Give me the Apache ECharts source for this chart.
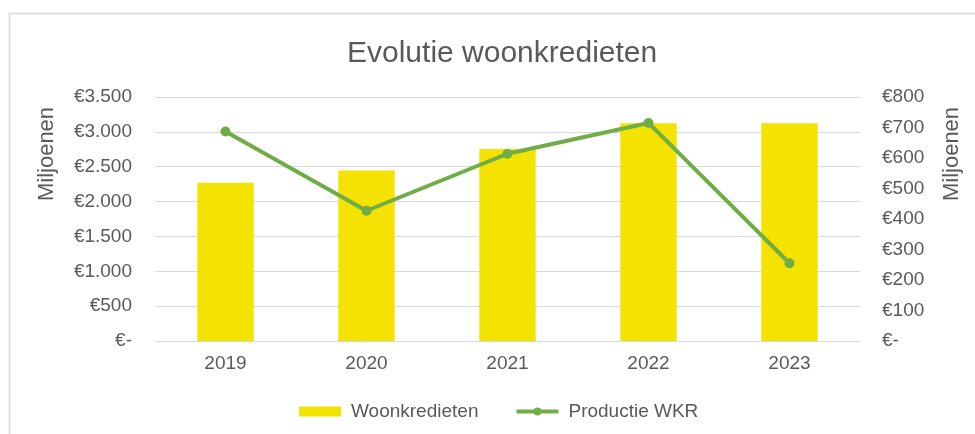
<!DOCTYPE html>
<html>
<head>
<meta charset="utf-8">
<script src="https://cdn.jsdelivr.net/npm/echarts@6.0.0/dist/echarts.min.js"></script>
<style>
  html, body { margin: 0; padding: 0; background: #fff; }
  #woonchart { width: 975px; height: 434px; }
</style>
</head>
<body>
<div id="woonchart"></div>
<script>
// data
const years = ['2019', '2020', '2021', '2022', '2023'];
const woonkredieten = [2270, 2445, 2755, 3125, 3125]; // miljoenen, linker as
const productieWKR = [687, 427, 614, 715, 255]; // miljoenen, rechter as
const leftTicks = [0, 500, 1000, 1500, 2000, 2500, 3000, 3500];
const rightTicks = [0, 100, 200, 300, 400, 500, 600, 700, 800];

const textColor = '#595959';
const fontFamily = "'Liberation Sans', Arial, sans-serif";

// €-notatie zoals in Excel: 0 -> "€-", duizendtallen met punt
const euro = (v) => {
  if (v === 0) return '€-';
  return '€' + String(v).replace(/\B(?=(\d{3})+(?!\d))/g, '.');
};

const chart = echarts.init(document.getElementById('woonchart'));

const option = {
  backgroundColor: '#fff',
  textStyle: { fontFamily: fontFamily },
  title: {
    text: 'Evolutie woonkredieten',
    left: 342,
    top: 34,
    textStyle: {
      color: textColor,
      fontSize: 30,
      fontWeight: 'normal',
      fontFamily: fontFamily
    }
  },
  // kader rond de grafiek
  graphic: [{
    type: 'rect',
    silent: true,
    shape: { x: 9.5, y: 13.5, width: 1000, height: 500 },
    style: { fill: 'none', stroke: '#d9d9d9', lineWidth: 1.5 }
  }],
  grid: {
    left: 155,
    right: 115,
    top: 97,
    bottom: 93
  },
  legend: {
    top: 397,
    left: 294,
    itemWidth: 42,
    itemHeight: 10,
    itemGap: 36,
    lineStyle: { width: 4 },
    textStyle: {
      color: textColor,
      fontSize: 19,
      padding: [0, 0, 0, 5]
    },
    data: [
      { name: 'Woonkredieten', icon: 'rect' },
      { name: 'Productie WKR' }
    ]
  },
  xAxis: {
    type: 'category',
    data: years,
    axisTick: { show: false },
    axisLine: { lineStyle: { color: '#d9d9d9', width: 1 } },
    axisLabel: {
      color: textColor,
      fontSize: 19,
      margin: 13
    }
  },
  yAxis: [{
      type: 'value',
      min: leftTicks[0],
      max: leftTicks[leftTicks.length - 1],
      interval: leftTicks[1] - leftTicks[0],
      name: 'Miljoenen',
      nameLocation: 'middle',
      nameRotate: 90,
      nameGap: 97,
      nameTextStyle: {
        color: textColor,
        fontSize: 22,
        padding: [0, 0, 0, 130]
      },
      axisLine: { show: false },
      axisTick: { show: false },
      splitLine: { lineStyle: { color: '#d9d9d9', width: 1 } },
      axisLabel: {
        color: textColor,
        fontSize: 19,
        margin: 23,
        formatter: euro
      }
    },
    {
      type: 'value',
      position: 'right',
      min: rightTicks[0],
      max: rightTicks[rightTicks.length - 1],
      interval: rightTicks[1] - rightTicks[0],
      name: 'Miljoenen',
      nameLocation: 'middle',
      nameRotate: 90,
      nameGap: 81,
      nameTextStyle: {
        color: textColor,
        fontSize: 22,
        padding: [0, 0, 0, 130]
      },
      axisLine: { show: false },
      axisTick: { show: false },
      splitLine: { show: false },
      axisLabel: {
        color: textColor,
        fontSize: 19,
        margin: 22,
        formatter: euro
      }
    }
  ],
  series: [{
      name: 'Woonkredieten',
      type: 'bar',
      yAxisIndex: 0,
      barWidth: '40%',
      itemStyle: { color: '#F4E200' },
      data: woonkredieten
    },
    {
      name: 'Productie WKR',
      type: 'line',
      yAxisIndex: 1,
      symbol: 'circle',
      symbolSize: 10,
      lineStyle: { color: '#70AD47', width: 4 },
      itemStyle: { color: '#70AD47' },
      data: productieWKR
    }
  ]
};

chart.setOption(option);

window.addEventListener('resize', function () {
  chart.resize();
});
</script>
</body>
</html>
